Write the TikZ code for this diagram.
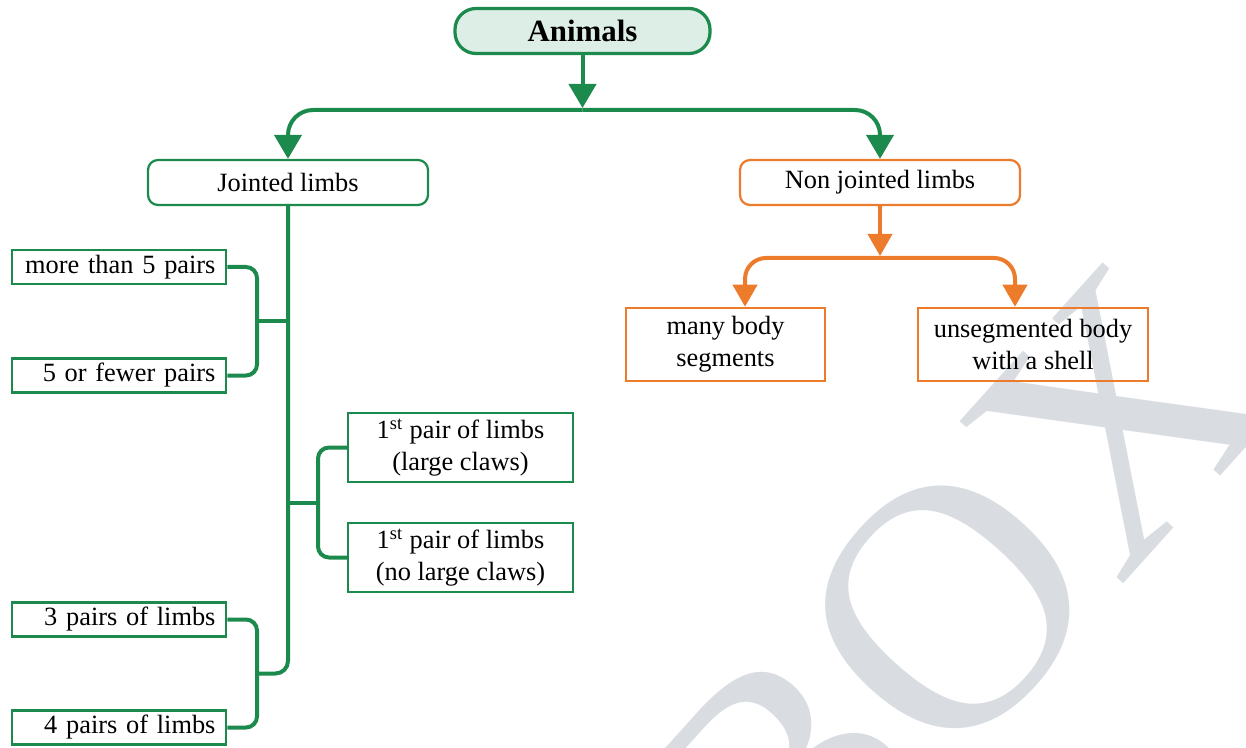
\documentclass[tikz,border=0pt]{standalone}
\usepackage{fontspec}
\setmainfont{Liberation Serif}
\usetikzlibrary{arrows.meta,calc}
\definecolor{gr}{HTML}{1B8A4C}
\definecolor{og}{HTML}{EC7C2C}
\definecolor{mint}{HTML}{DDEEE6}
\definecolor{wm}{HTML}{D9DDE1}
\begin{document}
\begin{tikzpicture}[
  every node/.style={font=\fontsize{15}{18}\selectfont, inner sep=0pt},
  animalsbox/.style={draw=gr, line width=0.065cm, fill=mint, rounded corners=0.42cm,
    minimum width=5.1cm, minimum height=0.9cm, font=\fontsize{17.6}{20}\selectfont\bfseries},
  grbox/.style={draw=gr, line width=0.045cm, rounded corners=0.2cm, minimum width=5.6cm, minimum height=0.9cm},
  orbox/.style={draw=og, line width=0.045cm, rounded corners=0.2cm, minimum width=5.6cm, minimum height=0.9cm},
  leftbox/.style={draw=gr, line width=0.05cm, minimum height=0.68cm, text width=3.86cm,
    inner xsep=0.21cm, align=right},
  clawbox/.style={draw=gr, line width=0.05cm, minimum width=4.5cm, minimum height=1.38cm, align=center},
  obox/.style={draw=og, line width=0.05cm, minimum height=1.46cm, align=center},
  gline/.style={draw=gr, line width=0.08cm},
  oline/.style={draw=og, line width=0.08cm},
  gtip/.style={-{Triangle[width=0.54cm,length=0.48cm]}},
  otip/.style={-{Triangle[width=0.48cm,length=0.44cm]}},
  watermark/.style={text=wm, font=\fontsize{200}{200}\selectfont}
]
\useasboundingbox (0,0) rectangle (24.92,-14.96);
\begin{scope}
  \clip (0,0) rectangle (24.92,-14.96);
  \node[watermark, rotate=48] (wmark) at (19.1,-12.0) {BOX};
\end{scope}

% nodes
\node[animalsbox] (animals) at (11.65,-0.62) {Animals};
\node[grbox] (jointed) at (5.76,-3.65) {Jointed limbs};
\node[orbox] (nonjointed) at (17.6,-3.65) {Non jointed limbs};
\node[leftbox] (more5) at (2.38,-5.34) {more than 5 pairs};
\node[leftbox] (fewer5) at (2.38,-7.51) {5 or fewer pairs};
\node[leftbox] (pairs3) at (2.38,-12.39) {3 pairs of limbs};
\node[leftbox] (pairs4) at (2.38,-14.55) {4 pairs of limbs};
\node[clawbox] (claws1) at (9.21,-8.95) {1\textsuperscript{st} pair of limbs\\(large claws)};
\node[clawbox] (claws2) at (9.21,-11.15) {1\textsuperscript{st} pair of limbs\\(no large claws)};
\node[obox, minimum width=3.98cm] (many) at (14.51,-6.89) {many body\\segments};
\node[obox, minimum width=4.6cm] (unseg) at (20.66,-6.89) {unsegmented body\\with a shell};

% green top connectors
\coordinate (gbar) at (11.65,-2.2);
\draw[gline, gtip, shorten >=0.04cm] (animals.south) -- (gbar);
\draw[gline, gtip, rounded corners=0.5cm] (gbar) -| (jointed.north);
\draw[gline, gtip, rounded corners=0.5cm] (gbar) -| (nonjointed.north);

% jointed-limbs tree
\coordinate (lx) at (5.14,0);
\coordinate (rx) at (6.36,0);
\draw[gline, rounded corners=0.22cm] (more5.east) -- (more5.east -| lx) -- (fewer5.east -| lx) -- (fewer5.east);
\draw[gline, rounded corners=0.22cm] (pairs3.east) -- (pairs3.east -| lx) -- (pairs4.east -| lx) -- (pairs4.east);
\draw[gline, rounded corners=0.22cm] (claws1.west) -- (claws1.west -| rx) -- (claws2.west -| rx) -- (claws2.west);
\coordinate (b1) at ($(more5.east -| lx)!0.5!(fewer5.east -| lx)$);
\coordinate (b2) at ($(claws1.west -| rx)!0.5!(claws2.west -| rx)$);
\coordinate (b3) at ($(pairs3.east -| lx)!0.5!(pairs4.east -| lx)$);
\draw[gline, rounded corners=0.25cm] (jointed.south) |- (b3);
\draw[gline] (b1) -- (b1 -| jointed.south);
\draw[gline] (b2) -- (b2 -| jointed.south);

% orange connectors
\coordinate (obar) at (17.6,-5.16);
\draw[oline, otip, shorten >=0.04cm] (nonjointed.south) -- (obar);
\draw[oline, otip, rounded corners=0.42cm] (obar) -| ([xshift=0.39cm]many.north);
\draw[oline, otip, rounded corners=0.42cm] (obar) -| ([xshift=-0.36cm]unseg.north);
\end{tikzpicture}
\end{document}
